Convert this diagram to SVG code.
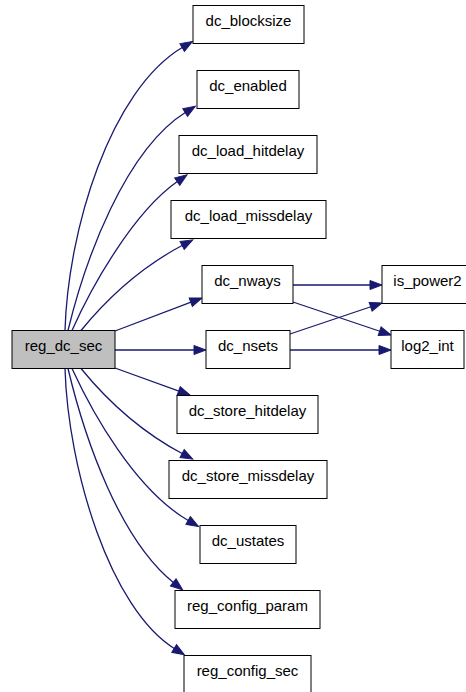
<svg xmlns="http://www.w3.org/2000/svg" width="466" height="692" viewBox="0 0 466 692">
<style>
.node rect{fill:#ffffff;stroke:#000000;stroke-width:1}
.node.root rect{fill:#bfbfbf}
.node text{font-family:"Liberation Sans",Arial,Helvetica,sans-serif;font-size:15px;fill:#000000;text-anchor:middle}
#edges path{fill:none;stroke:#191970;stroke-width:1.3;marker-end:url(#arr)}
</style>
<defs>
<marker id="arr" viewBox="0 0 12 9" refX="1" refY="4.5" markerWidth="12" markerHeight="9" markerUnits="userSpaceOnUse" orient="auto" overflow="visible">
<path d="M0,0 L12,4.5 L0,9 z" fill="#191970" stroke="#191970" stroke-width="1"/>
</marker>
</defs>
<rect width="466" height="692" fill="#ffffff"/>
<g id="edges">
<path d="M65,330.5 C68,230 110,90 183,47"/>
<path d="M68,330.5 C85,260 125,150 186,112"/>
<path d="M72,330.5 C90,290 132,213 178,181"/>
<path d="M81,330.5 C110,295 145,265 183,245"/>
<path d="M115,331 L191.7,301.9"/>
<path d="M115,350 L195,350"/>
<path d="M115,368 L179.6,391.3"/>
<path d="M81,368.5 C110,404 145,434 183,454"/>
<path d="M72,368.5 C92,412 135,490 189,521"/>
<path d="M68,368.5 C85,440 120,540 174,583"/>
<path d="M65,368.5 C68,469 110,609 175,649"/>
<path d="M293,285 L371,285"/>
<path d="M293,302 L380.6,331.5"/>
<path d="M290,334 L371.6,306.5"/>
<path d="M290,350 L380,350"/>
</g>
<g id="node-reg_dc_sec" class="node root"><rect x="12" y="330.5" width="103" height="38"/><text x="63.5" y="351">reg_dc_sec</text></g>
<g id="node-dc_blocksize" class="node"><rect x="193" y="5.5" width="111" height="38"/><text x="248.5" y="26">dc_blocksize</text></g>
<g id="node-dc_enabled" class="node"><rect x="197" y="70.5" width="102" height="38"/><text x="248" y="91">dc_enabled</text></g>
<g id="node-dc_load_hitdelay" class="node"><rect x="179" y="135.5" width="138" height="38"/><text x="248" y="156">dc_load_hitdelay</text></g>
<g id="node-dc_load_missdelay" class="node"><rect x="171" y="200.5" width="155" height="38"/><text x="248.5" y="221">dc_load_missdelay</text></g>
<g id="node-dc_nways" class="node"><rect x="202" y="265.5" width="91" height="38"/><text x="247.5" y="286">dc_nways</text></g>
<g id="node-is_power2" class="node"><rect x="382" y="265.5" width="91" height="38"/><text x="427.5" y="286">is_power2</text></g>
<g id="node-dc_nsets" class="node"><rect x="206" y="330.5" width="84" height="38"/><text x="248" y="351">dc_nsets</text></g>
<g id="node-log2_int" class="node"><rect x="391" y="330.5" width="73" height="38"/><text x="427.5" y="351">log2_int</text></g>
<g id="node-dc_store_hitdelay" class="node"><rect x="177" y="395.5" width="141" height="38"/><text x="247.5" y="416">dc_store_hitdelay</text></g>
<g id="node-dc_store_missdelay" class="node"><rect x="169" y="460.5" width="158" height="38"/><text x="248" y="481">dc_store_missdelay</text></g>
<g id="node-dc_ustates" class="node"><rect x="200" y="525.5" width="96" height="38"/><text x="248" y="546">dc_ustates</text></g>
<g id="node-reg_config_param" class="node"><rect x="175" y="590.5" width="145" height="38"/><text x="247.5" y="611">reg_config_param</text></g>
<g id="node-reg_config_sec" class="node"><rect x="184" y="655.5" width="127" height="38"/><text x="247.5" y="676">reg_config_sec</text></g>
</svg>
